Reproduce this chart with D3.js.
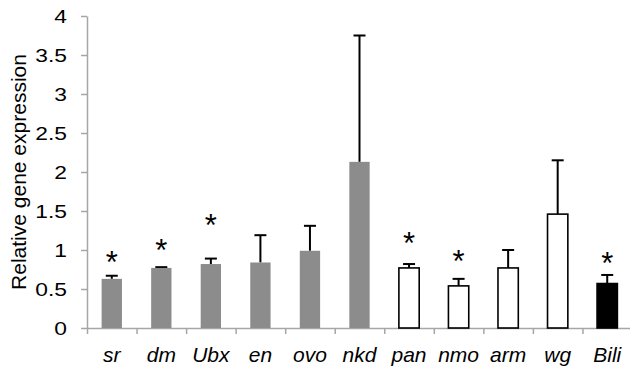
<!DOCTYPE html>
<html>
<head>
<meta charset="utf-8">
<script src="https://cdn.jsdelivr.net/npm/d3@7"></script>
<style>
  body { margin: 0; background: #fff; }
  text { font-family: Arial, "Liberation Sans", sans-serif; }
</style>
</head>
<body>
<div id="chart"></div>
<script>
// Daten
const genes = ["sr", "dm", "Ubx", "en", "ovo", "nkd", "pan", "nmo", "arm", "wg", "Bili"];
const groups = ["gray", "gray", "gray", "gray", "gray", "gray", "white", "white", "white", "white", "black"];
const means = [0.63, 0.77, 0.82, 0.84, 0.99, 2.13, 0.77, 0.54, 0.77, 1.46, 0.57];
const errors = [0.04, 0.01, 0.07, 0.35, 0.32, 1.62, 0.05, 0.09, 0.23, 0.69, 0.11];
const starLevels = [0.94, 1.09, 1.41, null, null, null, 1.18, 0.95, null, null, 0.92];
const yTicks = [0, 0.5, 1, 1.5, 2, 2.5, 3, 3.5, 4];
const yTitle = "Relative gene expression";

const width = 630, height = 371;
const margin = { left: 87, right: -2, top: 16, bottom: 43 };

const fills = { gray: "#8c8c8c", white: "#ffffff", black: "#000000" };

const svg = d3.select("#chart").append("svg")
  .attr("width", width)
  .attr("height", height);

// Skalen
const x = d3.scaleBand()
  .domain(genes)
  .range([margin.left, width - margin.right])
  .padding(0);

const y = d3.scaleLinear()
  .domain([0, 4])
  .range([height - margin.bottom, margin.top]);

const barW = x.bandwidth() * 0.41;

// Y-Achse
const yAxis = svg.append("g")
  .attr("transform", `translate(${margin.left},0)`)
  .call(d3.axisLeft(y).tickValues(yTicks).tickSize(6).tickSizeOuter(0).tickFormat(d3.format("")));
yAxis.select(".domain").attr("stroke", "#a6a6a6").attr("stroke-width", 1.5);
yAxis.selectAll(".tick line").attr("stroke", "#a6a6a6").attr("stroke-width", 1.5);
yAxis.selectAll(".tick text")
  .attr("x", null)
  .attr("transform", "translate(-20,0) scale(1.2,1)")
  .attr("fill", "#000")
  .style("font-size", "19px");

// X-Achse mit Strichen an den Kategoriegrenzen
const xb = d3.scaleLinear().domain([0, genes.length]).range(x.range());
const xAxis = svg.append("g")
  .attr("transform", `translate(0,${y(0)})`)
  .call(d3.axisBottom(xb).tickValues(d3.range(0, genes.length + 1)).tickSize(6).tickSizeOuter(0).tickFormat(""));
xAxis.select(".domain").attr("stroke", "#a6a6a6").attr("stroke-width", 1.5);
xAxis.selectAll(".tick line").attr("stroke", "#a6a6a6").attr("stroke-width", 1.5);

// Kategorienamen
svg.selectAll(".cat")
  .data(genes)
  .enter()
  .append("text")
  .attr("class", "cat")
  .attr("x", d => x(d) + x.bandwidth() / 2)
  .attr("y", 362)
  .attr("text-anchor", "middle")
  .style("font-size", "21px")
  .style("font-style", "italic")
  .text(d => d);

// Achsentitel
svg.append("text")
  .attr("transform", `translate(26,${(y(0) + y(4)) / 2}) rotate(-90)`)
  .attr("text-anchor", "middle")
  .style("font-size", "21px")
  .text(yTitle);

// Fehlerbalken
genes.forEach((g, i) => {
  const cx = x(g) + x.bandwidth() / 2;
  svg.append("line")
    .attr("x1", cx).attr("x2", cx)
    .attr("y1", y(means[i])).attr("y2", y(means[i] + errors[i]))
    .attr("stroke", "#000").attr("stroke-width", 2);
  svg.append("line")
    .attr("x1", cx - 6).attr("x2", cx + 6)
    .attr("y1", y(means[i] + errors[i])).attr("y2", y(means[i] + errors[i]))
    .attr("stroke", "#000").attr("stroke-width", 2);
});

// Balken
svg.selectAll(".bar")
  .data(genes)
  .enter()
  .append("rect")
  .attr("class", "bar")
  .attr("x", d => x(d) + (x.bandwidth() - barW) / 2)
  .attr("y", (d, i) => y(means[i]))
  .attr("width", barW)
  .attr("height", (d, i) => y(0) - y(means[i]))
  .attr("fill", (d, i) => fills[groups[i]])
  .attr("stroke", (d, i) => groups[i] === "gray" ? "none" : "#000")
  .attr("stroke-width", 1.6);

// Sternchen
genes.forEach((g, i) => {
  if (starLevels[i] === null) return;
  svg.append("text")
    .attr("x", x(g) + x.bandwidth() / 2)
    .attr("y", y(starLevels[i]) + 18)
    .attr("text-anchor", "middle")
    .style("font-size", "31px")
    .text("*");
});
</script>
</body>
</html>
